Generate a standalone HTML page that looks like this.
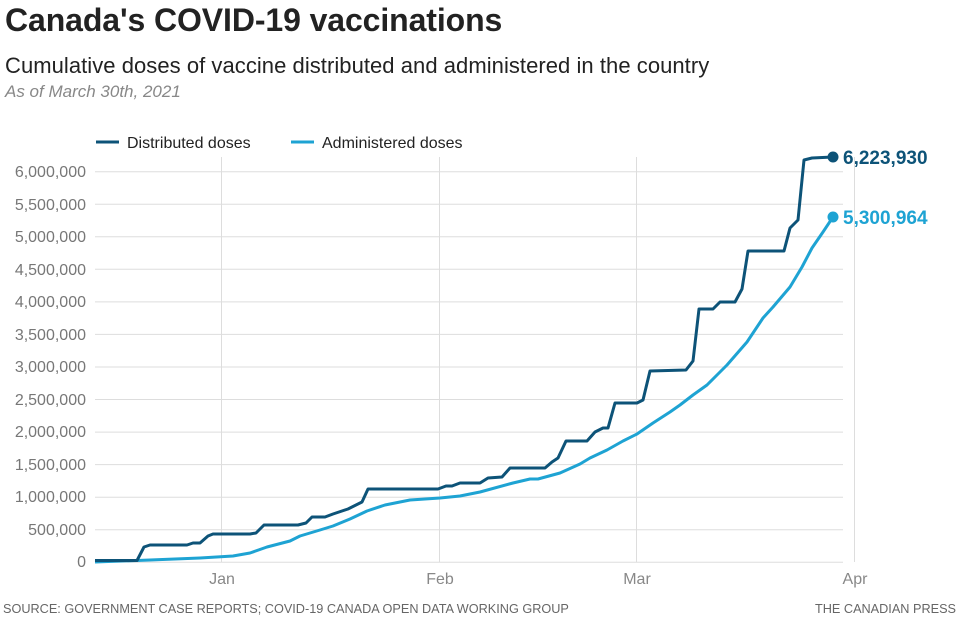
<!DOCTYPE html>
<html><head><meta charset="utf-8"><style>
body{margin:0;width:960px;height:640px;background:#fff;font-family:"Liberation Sans",sans-serif;overflow:hidden;position:relative}
.t{position:absolute;left:5px;top:2px;font-size:32px;font-weight:bold;color:#222;letter-spacing:-0.1px}
.s{position:absolute;left:5px;top:53px;font-size:22px;color:#222;letter-spacing:0.05px}
.d{position:absolute;left:5px;top:82px;font-size:17px;font-style:italic;color:#888}
.f{position:absolute;top:602px;font-size:12.7px;color:#666}
</style></head><body>
<div class="t">Canada's COVID-19 vaccinations</div>
<div class="s">Cumulative doses of vaccine distributed and administered in the country</div>
<div class="d">As of March 30th, 2021</div>
<svg width="960" height="640" style="position:absolute;left:0;top:0" font-family="Liberation Sans, sans-serif">
<g stroke="#ddd" stroke-width="1">
<line x1="95" x2="843" y1="171.7" y2="171.7"/><line x1="95" x2="843" y1="204.2" y2="204.2"/><line x1="95" x2="843" y1="236.8" y2="236.8"/><line x1="95" x2="843" y1="269.3" y2="269.3"/><line x1="95" x2="843" y1="301.9" y2="301.9"/><line x1="95" x2="843" y1="334.4" y2="334.4"/><line x1="95" x2="843" y1="367" y2="367"/><line x1="95" x2="843" y1="399.5" y2="399.5"/><line x1="95" x2="843" y1="432.1" y2="432.1"/><line x1="95" x2="843" y1="464.6" y2="464.6"/><line x1="95" x2="843" y1="497.2" y2="497.2"/><line x1="95" x2="843" y1="529.7" y2="529.7"/><line x1="95" x2="843" y1="562.3" y2="562.3"/>
<line x1="221.5" x2="221.5" y1="157" y2="562"/><line x1="439.5" x2="439.5" y1="157" y2="562"/><line x1="636.5" x2="636.5" y1="157" y2="562"/><line x1="854.5" x2="854.5" y1="157" y2="562"/>
</g>
<g font-size="16" fill="#777" text-anchor="end">
<text x="86" y="177">6,000,000</text><text x="86" y="210">5,500,000</text><text x="86" y="242">5,000,000</text><text x="86" y="275">4,500,000</text><text x="86" y="307">4,000,000</text><text x="86" y="340">3,500,000</text><text x="86" y="372">3,000,000</text><text x="86" y="405">2,500,000</text><text x="86" y="437">2,000,000</text><text x="86" y="470">1,500,000</text><text x="86" y="502">1,000,000</text><text x="86" y="535">500,000</text><text x="86" y="567">0</text>
</g>
<g font-size="16" fill="#888" text-anchor="middle">
<text x="222" y="584">Jan</text><text x="440" y="584">Feb</text><text x="637" y="584">Mar</text><text x="855" y="584">Apr</text>
</g>
<line x1="96" x2="119" y1="142" y2="142" stroke="#0d5378" stroke-width="3"/>
<text x="127" y="148" font-size="16" fill="#222">Distributed doses</text>
<line x1="291" x2="314" y1="142" y2="142" stroke="#1ea3d3" stroke-width="3"/>
<text x="322" y="148" font-size="16" fill="#222">Administered doses</text>
<polyline fill="none" stroke="#1ea3d3" stroke-width="3" stroke-linejoin="round" points="95,562 150,560 200,558 233,556 250,553 267,547 290,541 300,536 320,530 333,526 350,519 367,511 385,505 410,500 440,498 460,496 480,492 513,483 530,479 538,479 560,473 580,464 590,458 607,450 623,441 637,434 653,423 670,412 680,405 693,395 707,385 717,375 727,365 747,342 763,318 773,307 790,287 802,267 812,248 823,232 833,217"/>
<polyline fill="none" stroke="#0d5378" stroke-width="3" stroke-linejoin="round" points="95,560.5 137,560.5 144,547 150,545 187,545 193,543 200,543 208,536 213,534 250,534 256,533 264,525 298,525 306,523 312,517 325,517 333,514 348,509 362,502 368,489 438,489 446,486 452,486 460,483 480,483 488,478 502,477 510,468 545,468 552,462 558,458 566,441 587,441 595,432 603,428 608,428 615,403 637,403 643,400 650,371 686,370 693,361 699,309 713,309 720,302 735,302 742,289 748,251 784,251 790,228 798,220 804,160 812,158 833,157"/>
<circle cx="833" cy="157" r="5.5" fill="#0d5378"/>
<circle cx="833" cy="217" r="5.5" fill="#1ea3d3"/>
<text x="843" y="164" font-size="19" font-weight="bold" fill="#0d5378">6,223,930</text>
<text x="843" y="224" font-size="19" font-weight="bold" fill="#1ea3d3">5,300,964</text>
</svg>
<div class="f" style="left:3px">SOURCE: GOVERNMENT CASE REPORTS; COVID-19 CANADA OPEN DATA WORKING GROUP</div>
<div class="f" style="right:4px">THE CANADIAN PRESS</div>
</body></html>
